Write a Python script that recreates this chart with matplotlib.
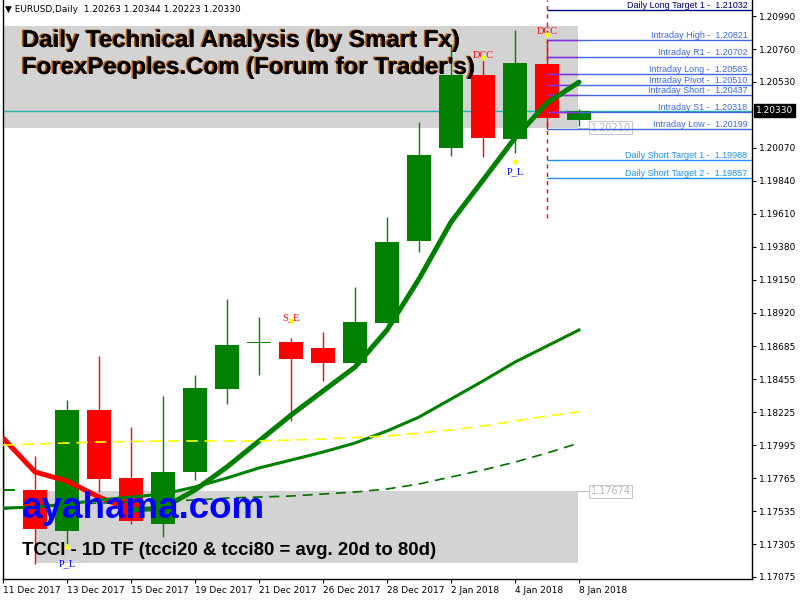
import matplotlib.pyplot as plt
import matplotlib.patheffects as pe
from matplotlib.patches import Rectangle

# daily candles, 11 Dec 2017 .. 8 Jan 2018
opens = [1.17672, 1.17682, 1.17396, 1.18240, 1.17766, 1.17445, 1.17808, 1.18387, 1.18706, 1.18715,
         1.18673, 1.18568, 1.18851, 1.19420, 1.20069, 1.20578, 1.20134, 1.20657, 1.20263]
highs = [1.18115, 1.17919, 1.18310, 1.18617, 1.18122, 1.18338, 1.18485, 1.19015, 1.18889, 1.18743,
         1.18785, 1.19099, 1.19587, 1.20250, 1.20795, 1.20683, 1.20892, 1.20821, 1.20344]
lows = [1.17612, 1.17166, 1.17284, 1.17668, 1.17445, 1.17354, 1.17752, 1.18282, 1.18485, 1.18164,
        1.18443, 1.18561, 1.18846, 1.19343, 1.20013, 1.20006, 1.20034, 1.20199, 1.20223]
closes = [1.17692, 1.17410, 1.18240, 1.17759, 1.17466, 1.17808, 1.18394, 1.18694, 1.18716, 1.18596,
          1.18568, 1.18854, 1.19413, 1.20020, 1.20578, 1.20139, 1.20664, 1.20280, 1.20330]

ma_fast = [1.18045, 1.17808, 1.17745, 1.17633, 1.17542, 1.17556, 1.17682, 1.17843, 1.18024, 1.18205,
           1.18373, 1.18540, 1.18799, 1.19155, 1.19552, 1.19845, 1.20139, 1.20383, 1.20529]
ma_mid = [1.17556, 1.17563, 1.17584, 1.17612, 1.17633, 1.17654, 1.17703, 1.17766, 1.17836, 1.17891,
          1.17947, 1.18010, 1.18094, 1.18191, 1.18317, 1.18443, 1.18575, 1.18687, 1.18799]
ma_slow = [1.17549, 1.17570, 1.17584, 1.17591, 1.17598, 1.17605, 1.17612, 1.17626, 1.17633, 1.17640,
           1.17654, 1.17668, 1.17689, 1.17724, 1.17773, 1.17822, 1.17877, 1.17940, 1.18010]
ma_yellow = [1.17996, 1.18003, 1.18010, 1.18017, 1.18021, 1.18024, 1.18024, 1.18024, 1.18024, 1.18031,
             1.18038, 1.18048, 1.18059, 1.18080, 1.18101, 1.18129, 1.18164, 1.18199, 1.18227]

date_ticks = [0, 2, 4, 6, 8, 10, 12, 14, 16, 18]
date_labels = ["11 Dec 2017", "13 Dec 2017", "15 Dec 2017", "19 Dec 2017", "21 Dec 2017",
               "26 Dec 2017", "28 Dec 2017", "2 Jan 2018", "4 Jan 2018", "8 Jan 2018"]
price_ticks = [1.20990, 1.20760, 1.20530, 1.20070, 1.19840, 1.19610, 1.19380, 1.19150,
               1.18920, 1.18685, 1.18455, 1.18225, 1.17995, 1.17765, 1.17535, 1.17305, 1.17075]

level_names = ["Daily Long Target 1", "Intraday High", "Intraday R1", "Intraday Long", "Intraday Pivot",
               "Intraday Short", "Intraday S1", "Intraday Low", "Daily Short Target 1", "Daily Short Target 2"]
level_values = [1.21032, 1.20821, 1.20702, 1.20583, 1.20510, 1.20437, 1.20318, 1.20199, 1.19988, 1.19857]

bid = 1.20330
top_box = (1.20210, 1.20920)
bottom_box = (1.17173, 1.17674)
marks = [("DCC", 15, 1.20715, "red"), ("DCC", 17, 1.20880, "red"), ("S_E", 9, 1.18885, "red"),
         ("P_L", 16, 1.19900, "blue"), ("P_L", 2, 1.17168, "blue")]

fig = plt.figure(figsize=(8, 6), dpi=100)
ax = fig.add_axes([3 / 800, 21 / 600, 749 / 800, 579 / 600])
xmax = 23.406
ax.set_xlim(0, xmax)
ax.set_ylim(1.17061, 1.21102)

# gray boxes
ax.add_patch(Rectangle((-1, top_box[0]), 18.97, top_box[1] - top_box[0], fc='#d3d3d3', ec='none', zorder=0))
ax.add_patch(Rectangle((1, bottom_box[0]), 16.97, bottom_box[1] - bottom_box[0], fc='#d3d3d3', ec='none', zorder=0))
for v in (top_box[0], bottom_box[1]):
    ax.plot([17.97, 18.3], [v, v], color='#c0c0c0', lw=0.8, zorder=1)
    ax.text(18.36, v, f"{v:.5f}", color='#b8b8b8', fontsize=7, va='center', ha='left',
            family='DejaVu Sans', bbox=dict(fc='white', ec='#c8c8c8', pad=1.2, lw=0.8), zorder=3)

# bid line
ax.axhline(bid, color='#20B2AA', lw=1, zorder=1)

# candles
for i in range(len(opens)):
    o, h, l, c = opens[i], highs[i], lows[i], closes[i]
    col = '#008000' if c >= o else '#ff0000'
    ax.vlines(i, l, h, color=col, lw=1, zorder=2)
    ax.bar(i, abs(c - o), bottom=min(o, c), width=0.78, color=col, zorder=2)

# moving averages
n = len(ma_fast)
ax.plot(range(0, 5), ma_fast[:5], color='#ff0000', lw=3.6, zorder=4, solid_capstyle='round')
ax.plot(range(4, n), ma_fast[4:], color='#008000', lw=3.6, zorder=4, solid_capstyle='round')
ax.plot(range(n), ma_mid, color='#008000', lw=2.2, zorder=4)
ax.plot(range(n), ma_slow, color='#006e00', lw=1.2, dashes=(6, 4), zorder=4)
ax.plot(range(n), ma_yellow, color='#ffff00', lw=1.2, dashes=(7, 4), zorder=4)

# vertical marker for current-day analysis
ax.vlines(17, 1.19580, 1.21102, color='red', lw=1, linestyles=(0, (3, 3)), zorder=3)

# levels
for name, v in zip(level_names, level_values):
    if name.startswith("Daily Long"):
        col = '#000080'
    elif name.startswith("Daily Short"):
        col = '#1e90ff'
    else:
        col = '#4169e1'
    ax.hlines(v, 17, xmax, color=col, lw=1, zorder=3)
    if name.startswith("Intraday") and top_box[0] < v < top_box[1]:
        ax.hlines(v, 17, 17.97, color='#8a2be2', lw=1, zorder=3)
    ax.annotate(f"{name} -  {v:.5f}", xy=(0.994, v), xycoords=('axes fraction', 'data'),
                xytext=(0, 1.5), textcoords='offset points', ha='right', va='baseline',
                fontsize=6.5, color=col, family='Liberation Sans', annotation_clip=False, zorder=5)

# signal labels
for txt, i, y, col in marks:
    ax.text(i, y, txt, color=col, fontsize=7.5, family='Liberation Serif', ha='center', va='center', zorder=6)
ax.plot([15, 17, 9], [1.20700, 1.20855, 1.18860], 'v', color='#ffff00', ms=3, zorder=6)
ax.plot([16, 2], [1.19975, 1.17290], '^', color='#ffff00', ms=3, zorder=6)

# axes styling
ax.spines['top'].set_visible(False)
for s in ('left', 'right', 'bottom'):
    ax.spines[s].set_color('black')
    ax.spines[s].set_linewidth(1)
ax.yaxis.tick_right()
ax.set_yticks(price_ticks)
ax.set_yticklabels([f"{p:.5f}" for p in price_ticks])
ax.tick_params(axis='y', direction='out', length=3, pad=2, labelsize=6.5)
ax.set_xticks(date_ticks)
ax.set_xticklabels(date_labels)
ax.tick_params(axis='x', direction='out', length=3, pad=2, labelsize=6.5)
for lbl in ax.get_xticklabels():
    lbl.set_ha('left')

ax.annotate(f"{bid:.5f}", xy=(1.0, bid), xycoords=('axes fraction', 'data'), xytext=(3, 0),
            textcoords='offset points', ha='left', va='center', color='white', fontsize=6.5,
            bbox=dict(fc='black', ec='black', pad=1.5), annotation_clip=False, zorder=7)

# overlay texts
shadow = [pe.withSimplePatchShadow(offset=(-1.2, 0.6), shadow_rgbFace='#c06000', alpha=1), pe.Normal()]
fig.text(22 / 800, 1 - 47 / 600, "Daily Technical Analysis (by Smart Fx)", fontsize=17.3, weight='bold',
         family='Liberation Sans', va='baseline', path_effects=shadow)
fig.text(22 / 800, 1 - 74 / 600, "ForexPeoples.Com (Forum for Trader's)", fontsize=17.3, weight='bold',
         family='Liberation Sans', va='baseline', path_effects=shadow)
fig.text(22 / 800, 1 - 518 / 600, "ayahama.com", fontsize=26.5, weight='bold', color='#0000ff',
         family='Liberation Sans', va='baseline')
fig.text(22 / 800, 1 - 555 / 600, "TCCI - 1D TF (tcci20 & tcci80 = avg. 20d to 80d)", fontsize=13.4,
         weight='bold', family='Liberation Sans', va='baseline')
fig.text(5 / 800, 1 - 12 / 600, "\u25bc EURUSD,Daily  1.20263 1.20344 1.20223 1.20330", fontsize=6.5,
         family='DejaVu Sans', va='baseline')

fig.savefig("out.png", dpi=100, facecolor='white')
